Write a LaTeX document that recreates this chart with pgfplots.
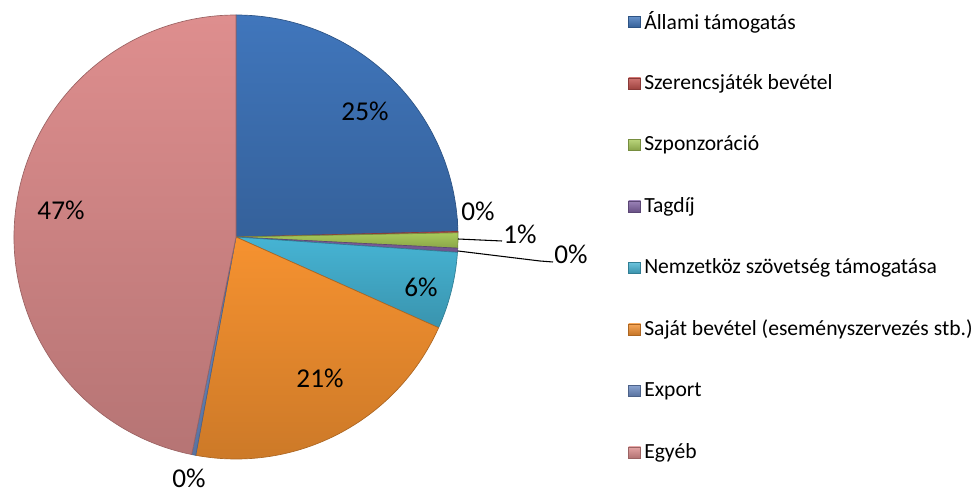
\documentclass[border=0pt]{standalone}
\usepackage{fontspec}
\setmainfont{Carlito}
\usepackage{pgfplots}
\usepackage{pgfplotstable}
\pgfplotsset{compat=1.18}

\definecolor{c0}{RGB}{64,118,188}
\definecolor{c1}{RGB}{196,82,78}
\definecolor{c2}{RGB}{168,202,90}
\definecolor{c3}{RGB}{130,100,166}
\definecolor{c4}{RGB}{70,180,212}
\definecolor{c5}{RGB}{246,146,48}
\definecolor{c6}{RGB}{108,140,196}
\definecolor{c7}{RGB}{222,142,142}

% values in percent; lx,ly = label centre in picture pixels (y from top)
\pgfplotstableread[col sep=comma]{
name,value,lx,ly
Állami támogatás,24.6,365,111
Szerencsjáték bevétel,0.1,478,211
Szponzoráció,1.1,520,234
Tagdíj,0.3,571,254
Nemzetköz szövetség támogatása,5.6,421,287
Saját bevétel (eseményszervezés stb.),21.2,320,378
Export,0.3,189,478
Egyéb,46.8,61,210
}\piedata

\begin{document}
\begin{tikzpicture}
\begin{axis}[
  hide axis,
  x=0.75pt, y=0.75pt,
  xmin=0, xmax=974, ymin=0, ymax=492,
  clip=false,
]
\def\cum{0}
\pgfplotsforeachungrouped \i in {0,...,7}{
  \pgfplotstablegetelem{\i}{value}\of\piedata \let\v\pgfplotsretval
  \pgfplotstablegetelem{\i}{name}\of\piedata \let\nm\pgfplotsretval
  \pgfplotstablegetelem{\i}{lx}\of\piedata \let\lx\pgfplotsretval
  \pgfplotstablegetelem{\i}{ly}\of\piedata \let\ly\pgfplotsretval
  \pgfmathsetmacro\a{90-3.6*\cum}
  \pgfmathsetmacro\b{90-3.6*(\cum+\v)}
  \pgfmathsetmacro\cum{\cum+\v}
  \pgfmathsetmacro\ry{492-\ly}
  \pgfmathsetmacro\gy{492-22-61.5*\i}
  \edef\temp{%
    \noexpand\draw[top color=c\i, bottom color=c\i!82!black, draw=c\i!70!black, line width=0.5pt, line join=round]
      (axis cs:236,255) -- +(\a:166.5pt) arc[start angle=\a, end angle=\b, radius=166.5pt] -- cycle;
    \noexpand\node[font=\noexpand\fontsize{20.4}{24}\noexpand\selectfont, inner sep=0pt]
      at (axis cs:\lx,\ry) {\noexpand\pgfmathprintnumber[fixed,precision=0,assume math mode=true]{\v}\noexpand\%};
    \noexpand\draw[top color=c\i!80!white, bottom color=c\i!80!black, draw=c\i!70!black, line width=0.4pt]
      (axis cs:628.5,\gy) ++(0,-4.2pt) rectangle ++(9pt,8.4pt);
    \noexpand\node[anchor=west, inner sep=0pt, font=\noexpand\fontsize{16.2}{19}\noexpand\selectfont]
      at (axis cs:644,\gy) {\nm};
  }%
  \temp
}
% leader lines for the two small slices
\draw[black, line width=0.8pt] (axis cs:458,253) -- (axis cs:502,251);
\draw[black, line width=0.8pt] (axis cs:458,241) -- (axis cs:540,231) -- (axis cs:553,230);
\end{axis}
\pgfresetboundingbox
\path (current axis.south west) rectangle (current axis.north east);
\end{tikzpicture}
\end{document}
